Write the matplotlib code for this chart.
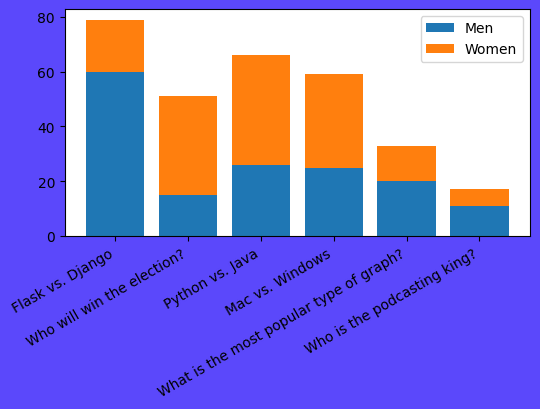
import matplotlib
matplotlib.use("Agg")
import matplotlib.pyplot as plt

questions = ["Flask vs. Django", "Who will win the election?", "Python vs. Java",
             "Mac vs. Windows", "What is the most popular type of graph?",
             "Who is the podcasting king?"]
men = [60, 15, 26, 25, 20, 11]
women = [19, 36, 40, 34, 13, 6]

fig, ax = plt.subplots(figsize=(5.4, 4.1), dpi=100)
fig.patch.set_facecolor("#5b48fb")

ax.bar(questions, men, label="Men")
ax.bar(questions, women, bottom=men, label="Women")
ax.legend(loc="upper right")
fig.autofmt_xdate()

plt.subplots_adjust(left=0.12, right=0.981, top=0.976, bottom=0.422)
plt.savefig("out.png", facecolor=fig.get_facecolor())
